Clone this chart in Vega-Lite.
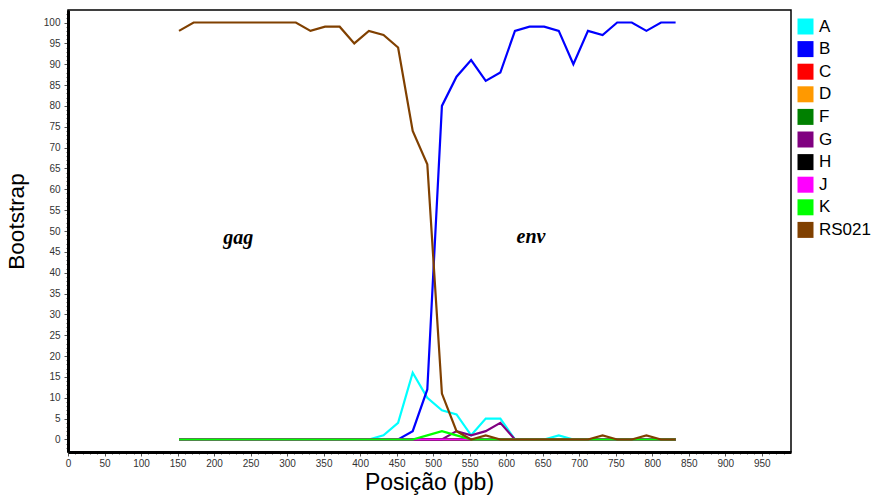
{
  "$schema": "https://vega.github.io/schema/vega-lite/v6.json",
  "width": 723,
  "height": 442,
  "autosize": {"type": "none"},
  "padding": {"left": 68, "top": 10, "right": 86, "bottom": 45},
  "background": "white",
  "config": {"view": {"stroke": "black", "strokeWidth": 1.5}, "font": "Liberation Sans"},
  "datasets": {
    "series": [
      {"pos":152,"A":0,"B":0,"C":0,"D":0,"F":0,"G":0,"H":0,"J":0,"K":0,"RS021":98},
      {"pos":172,"A":0,"B":0,"C":0,"D":0,"F":0,"G":0,"H":0,"J":0,"K":0,"RS021":100},
      {"pos":192,"A":0,"B":0,"C":0,"D":0,"F":0,"G":0,"H":0,"J":0,"K":0,"RS021":100},
      {"pos":212,"A":0,"B":0,"C":0,"D":0,"F":0,"G":0,"H":0,"J":0,"K":0,"RS021":100},
      {"pos":232,"A":0,"B":0,"C":0,"D":0,"F":0,"G":0,"H":0,"J":0,"K":0,"RS021":100},
      {"pos":252,"A":0,"B":0,"C":0,"D":0,"F":0,"G":0,"H":0,"J":0,"K":0,"RS021":100},
      {"pos":272,"A":0,"B":0,"C":0,"D":0,"F":0,"G":0,"H":0,"J":0,"K":0,"RS021":100},
      {"pos":292,"A":0,"B":0,"C":0,"D":0,"F":0,"G":0,"H":0,"J":0,"K":0,"RS021":100},
      {"pos":312,"A":0,"B":0,"C":0,"D":0,"F":0,"G":0,"H":0,"J":0,"K":0,"RS021":100},
      {"pos":332,"A":0,"B":0,"C":0,"D":0,"F":0,"G":0,"H":0,"J":0,"K":0,"RS021":98},
      {"pos":352,"A":0,"B":0,"C":0,"D":0,"F":0,"G":0,"H":0,"J":0,"K":0,"RS021":99},
      {"pos":372,"A":0,"B":0,"C":0,"D":0,"F":0,"G":0,"H":0,"J":0,"K":0,"RS021":99},
      {"pos":392,"A":0,"B":0,"C":0,"D":0,"F":0,"G":0,"H":0,"J":0,"K":0,"RS021":95},
      {"pos":412,"A":0,"B":0,"C":0,"D":0,"F":0,"G":0,"H":0,"J":0,"K":0,"RS021":98},
      {"pos":432,"A":1,"B":0,"C":0,"D":0,"F":0,"G":0,"H":0,"J":0,"K":0,"RS021":97},
      {"pos":452,"A":4,"B":0,"C":0,"D":0,"F":0,"G":0,"H":0,"J":0,"K":0,"RS021":94},
      {"pos":472,"A":16,"B":2,"C":0,"D":0,"F":0,"G":0,"H":0,"J":0,"K":0,"RS021":74},
      {"pos":492,"A":10,"B":12,"C":0,"D":0,"F":0,"G":0,"H":0,"J":0,"K":1,"RS021":66},
      {"pos":512,"A":7,"B":80,"C":0,"D":0,"F":0,"G":0,"H":0,"J":0,"K":2,"RS021":11},
      {"pos":532,"A":6,"B":87,"C":0,"D":0,"F":0,"G":2,"H":0,"J":0,"K":1,"RS021":2},
      {"pos":552,"A":1,"B":91,"C":0,"D":0,"F":0,"G":1,"H":0,"J":0,"K":0,"RS021":0},
      {"pos":572,"A":5,"B":86,"C":0,"D":0,"F":0,"G":2,"H":0,"J":0,"K":0,"RS021":1},
      {"pos":592,"A":5,"B":88,"C":0,"D":0,"F":0,"G":4,"H":0,"J":0,"K":0,"RS021":0},
      {"pos":612,"A":0,"B":98,"C":0,"D":0,"F":0,"G":0,"H":0,"J":0,"K":0,"RS021":0},
      {"pos":632,"A":0,"B":99,"C":0,"D":0,"F":0,"G":0,"H":0,"J":0,"K":0,"RS021":0},
      {"pos":652,"A":0,"B":99,"C":0,"D":0,"F":0,"G":0,"H":0,"J":0,"K":0,"RS021":0},
      {"pos":672,"A":1,"B":98,"C":0,"D":0,"F":0,"G":0,"H":0,"J":0,"K":0,"RS021":0},
      {"pos":692,"A":0,"B":90,"C":0,"D":0,"F":0,"G":0,"H":0,"J":0,"K":0,"RS021":0},
      {"pos":712,"A":0,"B":98,"C":0,"D":0,"F":0,"G":0,"H":0,"J":0,"K":0,"RS021":0},
      {"pos":732,"A":0,"B":97,"C":0,"D":0,"F":0,"G":0,"H":0,"J":0,"K":0,"RS021":1},
      {"pos":752,"A":0,"B":100,"C":0,"D":0,"F":0,"G":0,"H":0,"J":0,"K":0,"RS021":0},
      {"pos":772,"A":0,"B":100,"C":0,"D":0,"F":0,"G":0,"H":0,"J":0,"K":0,"RS021":0},
      {"pos":792,"A":0,"B":98,"C":0,"D":0,"F":0,"G":0,"H":0,"J":0,"K":0,"RS021":1},
      {"pos":812,"A":0,"B":100,"C":0,"D":0,"F":0,"G":0,"H":0,"J":0,"K":0,"RS021":0},
      {"pos":832,"A":0,"B":100,"C":0,"D":0,"F":0,"G":0,"H":0,"J":0,"K":0,"RS021":0}
    ],
    "labels": [
      {"pos": 233, "v": 48.3, "t": "gag"},
      {"pos": 634, "v": 48.5, "t": "env"}
    ]
  },
  "encoding": {
    "x": {
      "field": "pos", "type": "quantitative",
      "scale": {"domain": [0, 990], "nice": false, "zero": false},
      "axis": {
        "title": "Posição (pb)", "titleFontSize": 23, "titleFontWeight": "normal", "titleColor": "black",
        "titleX": 361, "titleY": 37, "titleBaseline": "alphabetic", "titleAlign": "center",
        "values": [0,10,20,30,40,50,60,70,80,90,100,110,120,130,140,150,160,170,180,190,200,210,220,230,240,250,260,270,280,290,300,310,320,330,340,350,360,370,380,390,400,410,420,430,440,450,460,470,480,490,500,510,520,530,540,550,560,570,580,590,600,610,620,630,640,650,660,670,680,690,700,710,720,730,740,750,760,770,780,790,800,810,820,830,840,850,860,870,880,890,900,910,920,930,940,950,960,970,980],
        "labelExpr": "datum.value % 50 === 0 ? datum.label : ''",
        "labelOverlap": false, "labelFlush": false, "labelBound": false,
        "labelFontSize": 10, "labelColor": "#333333", "labelPadding": 2,
        "tickSize": {"condition": {"test": "datum.value % 50 === 0", "value": 4}, "value": 2},
        "tickColor": "#555555", "tickWidth": 1,
        "domainColor": "black", "domainWidth": 3, "grid": false
      }
    },
    "y": {
      "field": "v", "type": "quantitative",
      "scale": {"domain": [-3, 103], "nice": false, "zero": false},
      "axis": {
        "title": "Bootstrap", "titleFontSize": 22.5, "titleFontWeight": "normal", "titleColor": "black",
        "titleX": -52, "titleY": 211, "titleBaseline": "middle", "titleAlign": "center", "titleAngle": -90,
        "values": [-2,-1,0,1,2,3,4,5,6,7,8,9,10,11,12,13,14,15,16,17,18,19,20,21,22,23,24,25,26,27,28,29,30,31,32,33,34,35,36,37,38,39,40,41,42,43,44,45,46,47,48,49,50,51,52,53,54,55,56,57,58,59,60,61,62,63,64,65,66,67,68,69,70,71,72,73,74,75,76,77,78,79,80,81,82,83,84,85,86,87,88,89,90,91,92,93,94,95,96,97,98,99,100,101,102],
        "labelExpr": "datum.value % 5 === 0 && datum.value >= 0 ? datum.label : ''",
        "labelOverlap": false, "labelFlush": false, "labelBound": false,
        "labelFontSize": 10, "labelColor": "#333333", "labelPadding": 4,
        "tickSize": {"condition": {"test": "datum.value % 5 === 0", "value": 4}, "value": 2},
        "tickColor": "#555555", "tickWidth": 1,
        "domainColor": "black", "domainWidth": 3, "grid": false
      }
    }
  },
  "layer": [
    {
      "data": {"name": "series"},
      "transform": [{"fold": ["A","B","C","D","F","G","H","J","K","RS021"], "as": ["s","v"]}],
      "mark": {"type": "line", "strokeWidth": 2.2, "clip": true},
      "encoding": {
        "color": {
          "field": "s", "type": "nominal",
          "scale": {
            "domain": ["A","B","C","D","F","G","H","J","K","RS021"],
            "range": ["#00FFFF","#0000FF","#FF0000","#FF9900","#008000","#800080","#000000","#FF00FF","#00FF00","#804000"]
          },
          "legend": {
            "title": null, "orient": "none", "legendX": 729, "legendY": 8,
            "symbolType": "square", "symbolSize": 256, "symbolStrokeWidth": 0,
            "labelFontSize": 17, "labelColor": "black", "labelOffset": 5, "rowPadding": 4.6,
            "encode": {"symbols": {"update": {"fill": {"scale": "color", "field": "value"}, "fillOpacity": {"value": 1}}}}
          }
        }
      }
    },
    {
      "data": {"name": "labels"},
      "mark": {"type": "text", "font": "Liberation Serif", "fontStyle": "italic", "fontWeight": "bold", "fontSize": 20, "color": "black"},
      "encoding": {
        "text": {"field": "t"}
      }
    }
  ]
}
